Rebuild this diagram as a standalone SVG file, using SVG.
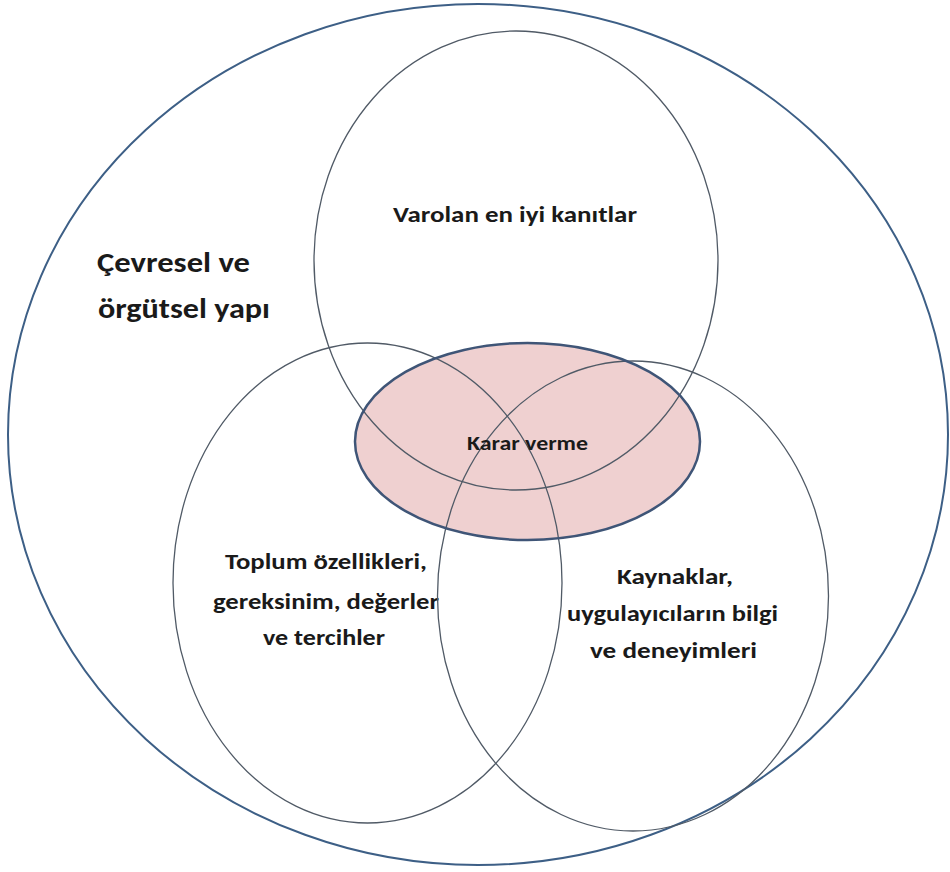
<svg xmlns="http://www.w3.org/2000/svg" width="950" height="872" viewBox="0 0 950 872">
<style>
.c{fill:none;stroke:#505a66;stroke-width:1.3}
.t{font-family:"Carlito","Open Sans","Liberation Sans",sans-serif;font-weight:600;fill:#1a1a1a}
</style>
<rect width="950" height="872" fill="#ffffff"/>
<g id="outer">
<ellipse cx="478" cy="434.5" rx="470" ry="430.5" fill="none" stroke="#3d5f86" stroke-width="2"/>
<text class="t" x="97" y="272" font-size="29" textLength="153" lengthAdjust="spacingAndGlyphs">Çevresel ve</text>
<text class="t" x="98" y="318" font-size="29" textLength="172" lengthAdjust="spacingAndGlyphs">örgütsel yapı</text>
</g>
<g id="karar-fill">
<ellipse cx="527.5" cy="441.5" rx="172.5" ry="98.5" fill="#efd0d0"/>
</g>
<g id="top">
<ellipse class="c" cx="516" cy="260.5" rx="202" ry="229.5"/>
<text class="t" x="393" y="222" font-size="23" textLength="244" lengthAdjust="spacingAndGlyphs">Varolan en iyi kanıtlar</text>
</g>
<g id="left">
<ellipse class="c" cx="367.5" cy="583" rx="194.5" ry="240"/>
<text class="t" x="225" y="569" font-size="22" textLength="202" lengthAdjust="spacingAndGlyphs">Toplum özellikleri,</text>
<text class="t" x="213" y="609" font-size="22" textLength="226" lengthAdjust="spacingAndGlyphs">gereksinim, değerler</text>
<text class="t" x="263" y="645" font-size="22" textLength="122" lengthAdjust="spacingAndGlyphs">ve tercihler</text>
</g>
<g id="right">
<ellipse class="c" cx="633" cy="596" rx="195.5" ry="235"/>
<text class="t" x="617" y="584" font-size="22" textLength="116" lengthAdjust="spacingAndGlyphs">Kaynaklar,</text>
<text class="t" x="567" y="621" font-size="22" textLength="211" lengthAdjust="spacingAndGlyphs">uygulayıcıların bilgi</text>
<text class="t" x="590" y="658" font-size="22" textLength="167" lengthAdjust="spacingAndGlyphs">ve deneyimleri</text>
</g>
<g id="karar">
<ellipse cx="527.5" cy="441.5" rx="172.5" ry="98.5" fill="none" stroke="#3f5577" stroke-width="2.5"/>
<text class="t" x="467" y="450" font-size="21" textLength="121" lengthAdjust="spacingAndGlyphs">Karar verme</text>
</g>
<g id="connectors"></g>
</svg>
